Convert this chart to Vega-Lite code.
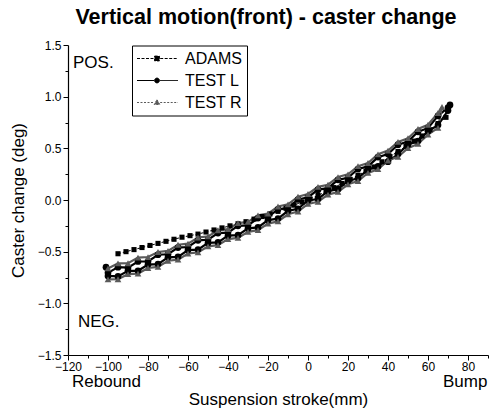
{
  "$schema": "https://vega.github.io/schema/vega-lite/v6.json",
  "width": 420,
  "height": 310,
  "autosize": {"type": "none"},
  "padding": {"left": 68, "top": 45, "right": 1, "bottom": 56},
  "background": "white",
  "title": {"text": "Vertical motion(front) - caster change", "fontSize": 21.5, "font": "Liberation Sans", "fontWeight": "bold", "anchor": "middle", "dx": -12, "offset": 11, "color": "black"},
  "config": {
    "view": {"stroke": null},
    "font": "Liberation Sans",
    "axis": {"domainColor": "black", "tickColor": "black", "labelColor": "black", "titleColor": "black", "grid": false, "labelFont": "Liberation Sans", "titleFont": "Liberation Sans", "labelFontSize": 12, "titleFontSize": 17, "titleFontWeight": "normal", "domainWidth": 1.2, "tickWidth": 1, "labelFlush": false, "labelOverlap": false},
    "legend": {"strokeColor": "black", "padding": 5, "rowPadding": 6, "labelFontSize": 16, "labelFont": "Liberation Sans", "labelColor": "black", "fillColor": "white", "labelOffset": 32, "symbolSize": 64, "symbolStrokeWidth": 1, "symbolOpacity": 1}
  },
  "datasets": {
    "series": [
      {"series": "ADAMS", "x": -95, "y": -0.52, "o": 1}, {"series": "ADAMS", "x": -91, "y": -0.50, "o": 2}, {"series": "ADAMS", "x": -87, "y": -0.48, "o": 3}, {"series": "ADAMS", "x": -83, "y": -0.46, "o": 4}, {"series": "ADAMS", "x": -79, "y": -0.44, "o": 5}, {"series": "ADAMS", "x": -75, "y": -0.42, "o": 6}, {"series": "ADAMS", "x": -71, "y": -0.40, "o": 7}, {"series": "ADAMS", "x": -67, "y": -0.38, "o": 8}, {"series": "ADAMS", "x": -63, "y": -0.36, "o": 9}, {"series": "ADAMS", "x": -59, "y": -0.345, "o": 10}, {"series": "ADAMS", "x": -55, "y": -0.33, "o": 11}, {"series": "ADAMS", "x": -51, "y": -0.31, "o": 12}, {"series": "ADAMS", "x": -47, "y": -0.29, "o": 13}, {"series": "ADAMS", "x": -43, "y": -0.27, "o": 14}, {"series": "ADAMS", "x": -39, "y": -0.25, "o": 15}, {"series": "ADAMS", "x": -35, "y": -0.23, "o": 16}, {"series": "ADAMS", "x": -31, "y": -0.21, "o": 17}, {"series": "ADAMS", "x": -27, "y": -0.185, "o": 18}, {"series": "ADAMS", "x": -23, "y": -0.16, "o": 19}, {"series": "ADAMS", "x": -19, "y": -0.135, "o": 20}, {"series": "ADAMS", "x": -15, "y": -0.11, "o": 21}, {"series": "ADAMS", "x": -11, "y": -0.08, "o": 22}, {"series": "ADAMS", "x": -7, "y": -0.05, "o": 23}, {"series": "ADAMS", "x": -3, "y": -0.02, "o": 24}, {"series": "ADAMS", "x": 1, "y": 0.01, "o": 25}, {"series": "ADAMS", "x": 5, "y": 0.045, "o": 26}, {"series": "ADAMS", "x": 9, "y": 0.08, "o": 27}, {"series": "ADAMS", "x": 13, "y": 0.12, "o": 28}, {"series": "ADAMS", "x": 17, "y": 0.16, "o": 29}, {"series": "ADAMS", "x": 21, "y": 0.20, "o": 30}, {"series": "ADAMS", "x": 25, "y": 0.24, "o": 31}, {"series": "ADAMS", "x": 29, "y": 0.28, "o": 32}, {"series": "ADAMS", "x": 33, "y": 0.32, "o": 33}, {"series": "ADAMS", "x": 37, "y": 0.37, "o": 34}, {"series": "ADAMS", "x": 41, "y": 0.42, "o": 35}, {"series": "ADAMS", "x": 45, "y": 0.47, "o": 36}, {"series": "ADAMS", "x": 49, "y": 0.52, "o": 37}, {"series": "ADAMS", "x": 53, "y": 0.57, "o": 38}, {"series": "ADAMS", "x": 57, "y": 0.62, "o": 39}, {"series": "ADAMS", "x": 61, "y": 0.68, "o": 40}, {"series": "ADAMS", "x": 65, "y": 0.74, "o": 41}, {"series": "ADAMS", "x": 69, "y": 0.80, "o": 42},

      {"series": "TEST L", "x": -101, "y": -0.65, "o": 1},
      {"series": "TEST L", "x": -100, "y": -0.735, "o": 2}, {"series": "TEST L", "x": -95, "y": -0.74, "o": 3}, {"series": "TEST L", "x": -90, "y": -0.685, "o": 4}, {"series": "TEST L", "x": -85, "y": -0.685, "o": 5}, {"series": "TEST L", "x": -80, "y": -0.625, "o": 6}, {"series": "TEST L", "x": -75, "y": -0.62, "o": 7}, {"series": "TEST L", "x": -70, "y": -0.555, "o": 8}, {"series": "TEST L", "x": -65, "y": -0.55, "o": 9}, {"series": "TEST L", "x": -60, "y": -0.485, "o": 10}, {"series": "TEST L", "x": -55, "y": -0.48, "o": 11}, {"series": "TEST L", "x": -50, "y": -0.415, "o": 12}, {"series": "TEST L", "x": -45, "y": -0.41, "o": 13}, {"series": "TEST L", "x": -40, "y": -0.345, "o": 14}, {"series": "TEST L", "x": -35, "y": -0.34, "o": 15}, {"series": "TEST L", "x": -30, "y": -0.275, "o": 16}, {"series": "TEST L", "x": -25, "y": -0.265, "o": 17}, {"series": "TEST L", "x": -20, "y": -0.195, "o": 18}, {"series": "TEST L", "x": -15, "y": -0.18, "o": 19}, {"series": "TEST L", "x": -10, "y": -0.105, "o": 20}, {"series": "TEST L", "x": -5, "y": -0.085, "o": 21}, {"series": "TEST L", "x": 0, "y": -0.005, "o": 22}, {"series": "TEST L", "x": 5, "y": 0.01, "o": 23}, {"series": "TEST L", "x": 10, "y": 0.085, "o": 24}, {"series": "TEST L", "x": 15, "y": 0.105, "o": 25}, {"series": "TEST L", "x": 20, "y": 0.185, "o": 26}, {"series": "TEST L", "x": 25, "y": 0.21, "o": 27}, {"series": "TEST L", "x": 30, "y": 0.295, "o": 28}, {"series": "TEST L", "x": 35, "y": 0.325, "o": 29}, {"series": "TEST L", "x": 40, "y": 0.37, "o": 30}, {"series": "TEST L", "x": 45, "y": 0.445, "o": 31}, {"series": "TEST L", "x": 50, "y": 0.535, "o": 32}, {"series": "TEST L", "x": 55, "y": 0.57, "o": 33}, {"series": "TEST L", "x": 60, "y": 0.665, "o": 34}, {"series": "TEST L", "x": 65, "y": 0.725, "o": 35}, {"series": "TEST L", "x": 70, "y": 0.865, "o": 36},
      {"series": "TEST L", "x": 71, "y": 0.92, "o": 37},
      {"series": "TEST L", "x": 70, "y": 0.895, "o": 38}, {"series": "TEST L", "x": 65, "y": 0.815, "o": 39}, {"series": "TEST L", "x": 60, "y": 0.695, "o": 40}, {"series": "TEST L", "x": 55, "y": 0.66, "o": 41}, {"series": "TEST L", "x": 50, "y": 0.565, "o": 42}, {"series": "TEST L", "x": 45, "y": 0.535, "o": 43}, {"series": "TEST L", "x": 40, "y": 0.445, "o": 44}, {"series": "TEST L", "x": 35, "y": 0.415, "o": 45}, {"series": "TEST L", "x": 30, "y": 0.325, "o": 46}, {"series": "TEST L", "x": 25, "y": 0.30, "o": 47}, {"series": "TEST L", "x": 20, "y": 0.215, "o": 48}, {"series": "TEST L", "x": 15, "y": 0.195, "o": 49}, {"series": "TEST L", "x": 10, "y": 0.115, "o": 50}, {"series": "TEST L", "x": 5, "y": 0.10, "o": 51}, {"series": "TEST L", "x": 0, "y": 0.025, "o": 52}, {"series": "TEST L", "x": -5, "y": 0.005, "o": 53}, {"series": "TEST L", "x": -10, "y": -0.075, "o": 54}, {"series": "TEST L", "x": -15, "y": -0.09, "o": 55}, {"series": "TEST L", "x": -20, "y": -0.165, "o": 56}, {"series": "TEST L", "x": -25, "y": -0.175, "o": 57}, {"series": "TEST L", "x": -30, "y": -0.245, "o": 58}, {"series": "TEST L", "x": -35, "y": -0.25, "o": 59}, {"series": "TEST L", "x": -40, "y": -0.315, "o": 60}, {"series": "TEST L", "x": -45, "y": -0.32, "o": 61}, {"series": "TEST L", "x": -50, "y": -0.385, "o": 62}, {"series": "TEST L", "x": -55, "y": -0.39, "o": 63}, {"series": "TEST L", "x": -60, "y": -0.455, "o": 64}, {"series": "TEST L", "x": -65, "y": -0.46, "o": 65}, {"series": "TEST L", "x": -70, "y": -0.525, "o": 66}, {"series": "TEST L", "x": -75, "y": -0.53, "o": 67}, {"series": "TEST L", "x": -80, "y": -0.595, "o": 68}, {"series": "TEST L", "x": -85, "y": -0.595, "o": 69}, {"series": "TEST L", "x": -90, "y": -0.655, "o": 70}, {"series": "TEST L", "x": -95, "y": -0.65, "o": 71}, {"series": "TEST L", "x": -100, "y": -0.705, "o": 72},

      {"series": "TEST R", "x": -100, "y": -0.768, "o": 1}, {"series": "TEST R", "x": -95, "y": -0.767, "o": 2}, {"series": "TEST R", "x": -90, "y": -0.718, "o": 3}, {"series": "TEST R", "x": -85, "y": -0.712, "o": 4}, {"series": "TEST R", "x": -80, "y": -0.658, "o": 5}, {"series": "TEST R", "x": -75, "y": -0.647, "o": 6}, {"series": "TEST R", "x": -70, "y": -0.588, "o": 7}, {"series": "TEST R", "x": -65, "y": -0.577, "o": 8}, {"series": "TEST R", "x": -60, "y": -0.518, "o": 9}, {"series": "TEST R", "x": -55, "y": -0.507, "o": 10}, {"series": "TEST R", "x": -50, "y": -0.448, "o": 11}, {"series": "TEST R", "x": -45, "y": -0.437, "o": 12}, {"series": "TEST R", "x": -40, "y": -0.378, "o": 13}, {"series": "TEST R", "x": -35, "y": -0.367, "o": 14}, {"series": "TEST R", "x": -30, "y": -0.308, "o": 15}, {"series": "TEST R", "x": -25, "y": -0.292, "o": 16}, {"series": "TEST R", "x": -20, "y": -0.228, "o": 17}, {"series": "TEST R", "x": -15, "y": -0.207, "o": 18}, {"series": "TEST R", "x": -10, "y": -0.138, "o": 19}, {"series": "TEST R", "x": -5, "y": -0.112, "o": 20}, {"series": "TEST R", "x": 0, "y": -0.038, "o": 21}, {"series": "TEST R", "x": 5, "y": -0.017, "o": 22}, {"series": "TEST R", "x": 10, "y": 0.052, "o": 23}, {"series": "TEST R", "x": 15, "y": 0.078, "o": 24}, {"series": "TEST R", "x": 20, "y": 0.152, "o": 25}, {"series": "TEST R", "x": 25, "y": 0.183, "o": 26}, {"series": "TEST R", "x": 30, "y": 0.262, "o": 27}, {"series": "TEST R", "x": 35, "y": 0.298, "o": 28}, {"series": "TEST R", "x": 40, "y": 0.382, "o": 29}, {"series": "TEST R", "x": 45, "y": 0.418, "o": 30}, {"series": "TEST R", "x": 50, "y": 0.502, "o": 31}, {"series": "TEST R", "x": 55, "y": 0.543, "o": 32}, {"series": "TEST R", "x": 60, "y": 0.632, "o": 33}, {"series": "TEST R", "x": 65, "y": 0.698, "o": 34},
      {"series": "TEST R", "x": 67, "y": 0.90, "o": 35},
      {"series": "TEST R", "x": 65, "y": 0.842, "o": 36}, {"series": "TEST R", "x": 60, "y": 0.728, "o": 37}, {"series": "TEST R", "x": 55, "y": 0.687, "o": 38}, {"series": "TEST R", "x": 50, "y": 0.598, "o": 39}, {"series": "TEST R", "x": 45, "y": 0.562, "o": 40}, {"series": "TEST R", "x": 40, "y": 0.478, "o": 41}, {"series": "TEST R", "x": 35, "y": 0.442, "o": 42}, {"series": "TEST R", "x": 30, "y": 0.358, "o": 43}, {"series": "TEST R", "x": 25, "y": 0.327, "o": 44}, {"series": "TEST R", "x": 20, "y": 0.248, "o": 45}, {"series": "TEST R", "x": 15, "y": 0.222, "o": 46}, {"series": "TEST R", "x": 10, "y": 0.148, "o": 47}, {"series": "TEST R", "x": 5, "y": 0.127, "o": 48}, {"series": "TEST R", "x": 0, "y": 0.058, "o": 49}, {"series": "TEST R", "x": -5, "y": 0.032, "o": 50}, {"series": "TEST R", "x": -10, "y": -0.042, "o": 51}, {"series": "TEST R", "x": -15, "y": -0.063, "o": 52}, {"series": "TEST R", "x": -20, "y": -0.132, "o": 53}, {"series": "TEST R", "x": -25, "y": -0.148, "o": 54}, {"series": "TEST R", "x": -30, "y": -0.212, "o": 55}, {"series": "TEST R", "x": -35, "y": -0.223, "o": 56}, {"series": "TEST R", "x": -40, "y": -0.282, "o": 57}, {"series": "TEST R", "x": -45, "y": -0.293, "o": 58}, {"series": "TEST R", "x": -50, "y": -0.352, "o": 59}, {"series": "TEST R", "x": -55, "y": -0.363, "o": 60}, {"series": "TEST R", "x": -60, "y": -0.422, "o": 61}, {"series": "TEST R", "x": -65, "y": -0.433, "o": 62}, {"series": "TEST R", "x": -70, "y": -0.492, "o": 63}, {"series": "TEST R", "x": -75, "y": -0.503, "o": 64}, {"series": "TEST R", "x": -80, "y": -0.552, "o": 65}, {"series": "TEST R", "x": -85, "y": -0.558, "o": 66}, {"series": "TEST R", "x": -90, "y": -0.612, "o": 67}, {"series": "TEST R", "x": -95, "y": -0.613, "o": 68}, {"series": "TEST R", "x": -100, "y": -0.662, "o": 69}
    ],
    "notes": [
      {"label": "POS.", "x": -117.5, "y": 1.33},
      {"label": "NEG.", "x": -115, "y": -1.18},
      {"label": "Rebound", "x": -118, "y": -1.765},
      {"label": "Bump", "x": 67.5, "y": -1.76}
    ]
  },
  "resolve": {"axis": {"x": "independent", "y": "independent"}},
  "layer": [
    {
      "data": {"name": "series"},
      "transform": [{"filter": "datum.series === 'ADAMS'"}],
      "mark": {"type": "line", "strokeWidth": 1, "color": "black", "strokeDash": [3, 2]},
      "encoding": {
        "x": {"field": "x", "type": "quantitative", "scale": {"domain": [-120, 90], "nice": false, "zero": false},
              "axis": {"values": [-120, -100, -80, -60, -40, -20, 0, 20, 40, 60, 80], "tickSize": 5, "labelPadding": 1, "title": "Suspension stroke(mm)", "titlePadding": 19, "orient": "bottom"}},
        "y": {"field": "y", "type": "quantitative", "scale": {"domain": [-1.5, 1.5], "nice": false, "zero": false},
              "axis": {"values": [-1.5, -1.0, -0.5, 0.0, 0.5, 1.0, 1.5], "format": ".1f", "tickSize": 5, "labelPadding": 2, "title": "Caster change (deg)", "titlePadding": 10, "orient": "left"}},
        "order": {"field": "o", "type": "quantitative"}
      }
    },
    {
      "data": {"name": "series"},
      "transform": [{"filter": "datum.series === 'TEST L'"}],
      "mark": {"type": "line", "strokeWidth": 2.2, "color": "black"},
      "encoding": {
        "x": {"field": "x", "type": "quantitative", "axis": null},
        "y": {"field": "y", "type": "quantitative", "axis": null},
        "order": {"field": "o", "type": "quantitative"}
      }
    },
    {
      "data": {"name": "series"},
      "transform": [{"filter": "datum.series === 'TEST R'"}],
      "mark": {"type": "line", "strokeWidth": 2.2, "color": "#5a5a5a"},
      "encoding": {
        "x": {"field": "x", "type": "quantitative", "axis": null},
        "y": {"field": "y", "type": "quantitative", "axis": null},
        "order": {"field": "o", "type": "quantitative"}
      }
    },
    {
      "data": {"name": "series"},
      "mark": {"type": "point", "filled": true, "opacity": 1},
      "encoding": {
        "x": {"field": "x", "type": "quantitative", "axis": null},
        "y": {"field": "y", "type": "quantitative", "axis": null},
        "size": {"condition": {"test": "datum.series === 'ADAMS'", "value": 26}, "value": 45},
        "color": {"condition": {"test": "datum.series === 'TEST R'", "value": "#5a5a5a"}, "value": "black"},
        "shape": {"condition": [{"test": "datum.series === 'ADAMS'", "value": "square"}, {"test": "datum.series === 'TEST R'", "value": "triangle-up"}], "value": "circle"}
      }
    },
    {
      "data": {"name": "series"},
      "transform": [{"filter": "datum.o === 1"}],
      "mark": {"type": "point", "filled": true, "opacity": 0},
      "encoding": {
        "x": {"field": "x", "type": "quantitative", "axis": null},
        "y": {"field": "y", "type": "quantitative", "axis": null},
        "fill": {"field": "series", "type": "nominal", "scale": {"domain": ["ADAMS", "TEST L", "TEST R"], "range": ["#000000", "#000000", "#5a5a5a"]},
          "legend": {"title": null, "orient": "none", "legendX": 64, "legendY": 0.5, "symbolOpacity": 1}},
        "stroke": {"field": "series", "type": "nominal", "scale": {"domain": ["ADAMS", "TEST L", "TEST R"], "range": ["#000000", "#000000", "#5a5a5a"]},
          "legend": {"title": null, "orient": "none", "legendX": 64, "legendY": 0.5, "symbolOpacity": 1}},
        "strokeDash": {"field": "series", "type": "nominal", "scale": {"domain": ["ADAMS", "TEST L", "TEST R"], "range": [[3, 1.5], [1, 0], [2, 1.5]]},
          "legend": {"title": null, "orient": "none", "legendX": 64, "legendY": 0.5, "symbolOpacity": 1}},
        "shape": {"field": "series", "type": "nominal",
          "scale": {"domain": ["ADAMS", "TEST L", "TEST R"], "range": ["M-2,0H2.2M2.4,-0.6H3.6V0.6H2.4ZM3.8,0H8.25", "M-2,0H2.3M2.4,0A0.6,0.6 0 1,1 3.6,0A0.6,0.6 0 1,1 2.4,0ZM3.7,0H8.25", "M-2,0H2.2M3,-0.7L3.7,0.5H2.3ZM3.8,0H8.25"]},
          "legend": {"title": null, "orient": "none", "legendX": 64, "legendY": 0.5, "symbolOpacity": 1}}
      }
    },
    {
      "data": {"name": "notes"},
      "mark": {"type": "text", "align": "left", "baseline": "middle", "fontSize": 17, "font": "Liberation Sans", "color": "black"},
      "encoding": {
        "x": {"field": "x", "type": "quantitative",
              "axis": {"values": [-110, -90, -70, -50, -30, -10, 10, 30, 50, 70, 90], "labels": false, "tickSize": 3, "title": null, "orient": "bottom", "domain": false}},
        "y": {"field": "y", "type": "quantitative",
              "axis": {"values": [-1.25, -0.75, -0.25, 0.25, 0.75, 1.25], "labels": false, "tickSize": 3, "title": null, "orient": "left", "domain": false}},
        "text": {"field": "label", "type": "nominal"}
      }
    }
  ]
}
